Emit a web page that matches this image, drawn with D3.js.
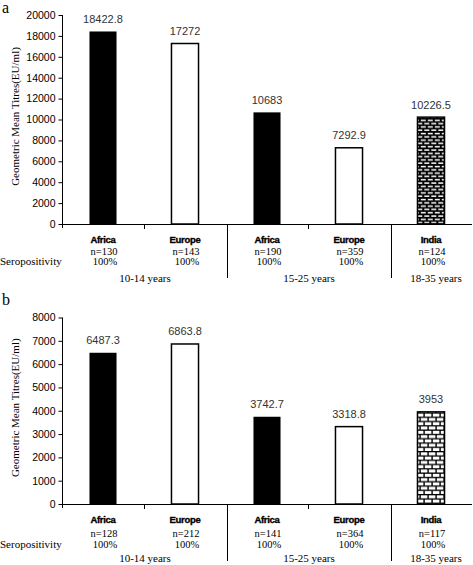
<!DOCTYPE html>
<html>
<head>
<meta charset="utf-8">
<script src="https://cdn.jsdelivr.net/npm/d3@7"></script>
<style>
  html, body { margin: 0; padding: 0; background: #fff; }
  svg { display: block; }
</style>
</head>
<body>
<svg id="chart" width="473" height="565"></svg>
<script>
// ---- data ----
const categories = ["Africa", "Europe", "Africa", "Europe", "India"];
const fills = ["black", "white", "black", "white", "brick"];
const ageGroups = ["10-14 years", "15-25 years", "18-35 years"];
const ageGroupStart = [0, 2, 4];
const ageGroupEnd = [1, 3, 4];

const gmtA = [18422.8, 17272, 10683, 7292.9, 10226.5];
const gmtLabelsA = ["18422.8", "17272", "10683", "7292.9", "10226.5"];
const nA = ["n=130", "n=143", "n=190", "n=359", "n=124"];
const seroA = ["100%", "100%", "100%", "100%", "100%"];
const ticksA = [0, 2000, 4000, 6000, 8000, 10000, 12000, 14000, 16000, 18000, 20000];

const gmtB = [6487.3, 6863.8, 3742.7, 3318.8, 3953];
const gmtLabelsB = ["6487.3", "6863.8", "3742.7", "3318.8", "3953"];
const nB = ["n=128", "n=212", "n=141", "n=364", "n=117"];
const seroB = ["100%", "100%", "100%", "100%", "100%"];
const ticksB = [0, 1000, 2000, 3000, 4000, 5000, 6000, 7000, 8000];

const yTitle = "Geometric Mean Titres(EU/ml)";
const seroTitle = "Seropositivity";

// ---- drawing ----
const svg = d3.select("#chart");
const defs = svg.append("defs");

function brickPattern(id, w, h, brickW, brickH) {
  const p = defs.append("pattern").attr("id", id)
    .attr("patternUnits", "userSpaceOnUse").attr("width", w).attr("height", h * 2);
  p.append("rect").attr("width", w).attr("height", h * 2).attr("fill", "black");
  p.append("rect").attr("x", 0.8).attr("y", 0.8).attr("width", brickW).attr("height", brickH).attr("fill", "white");
  p.append("rect").attr("x", -w / 2 + 0.8).attr("y", h + 0.8).attr("width", brickW).attr("height", brickH).attr("fill", "white");
  p.append("rect").attr("x", w / 2 + 0.8).attr("y", h + 0.8).attr("width", brickW).attr("height", brickH).attr("fill", "white");
}
brickPattern("brickA", 7, 3.3, 5, 1.5);
brickPattern("brickB", 8, 4.3, 6.6, 3.0);

const serif = "'Liberation Serif', 'Times New Roman', serif";
const sans = "'Liberation Sans', Arial, sans-serif";

const x = d3.scaleBand().domain(d3.range(categories.length)).range([62, 472]).padding(0);
const barW = x.bandwidth() * 0.33;

function panel(opts) {
  const { letter, letterY, top, bottom, maxV, values, labels, ns, seros, ticks, pattern, off } = opts;
  const y = d3.scaleLinear().domain([0, maxV]).range([bottom, top]);
  const g = svg.append("g");

  g.append("text").attr("x", 2).attr("y", letterY)
    .attr("font-family", serif).attr("font-size", 16).text(letter);

  // y axis
  const ax = g.append("g").attr("transform", "translate(62.5,0)")
    .call(d3.axisLeft(y).tickValues(ticks).tickSize(4).tickSizeOuter(0).tickPadding(3).tickFormat(d3.format("d")));
  ax.selectAll("text").attr("font-family", sans).attr("font-size", 10.5).attr("fill", "#000");
  ax.selectAll("line, path").attr("stroke", "#000").attr("stroke-width", 1);
  ax.select(".domain").attr("d", `M0,${top}V${bottom + 4}`);

  // y title
  g.append("text")
    .attr("transform", `translate(19,${(top + bottom) / 2 - 3}) rotate(-90)`)
    .attr("text-anchor", "middle").attr("font-family", serif).attr("font-size", 11)
    .text(yTitle);

  // bars
  g.selectAll("rect.bar").data(values).join("rect").attr("class", "bar")
    .attr("x", (d, i) => x(i) + x.bandwidth() / 2 - barW / 2)
    .attr("y", d => y(d))
    .attr("width", barW)
    .attr("height", d => y(0) - y(d))
    .attr("fill", (d, i) => fills[i] === "brick" ? `url(#${pattern})` : fills[i])
    .attr("stroke", (d, i) => fills[i] === "black" ? "none" : "#000")
    .attr("stroke-width", 1.5);

  // value labels
  g.selectAll("text.val").data(values).join("text").attr("class", "val")
    .attr("x", (d, i) => x(i) + x.bandwidth() / 2)
    .attr("y", d => y(d) - 8.5)
    .attr("text-anchor", "middle").attr("font-family", sans).attr("font-size", 11)
    .attr("fill", "#333")
    .text((d, i) => labels[i]);

  // x axis line
  g.append("line").attr("x1", 62).attr("x2", 472).attr("y1", bottom + 0.5).attr("y2", bottom + 0.5)
    .attr("stroke", "#000");

  // small ticks inside groups, long dividers between groups
  const small = [1, 3];
  g.selectAll("line.st").data(small).join("line").attr("class", "st")
    .attr("x1", d => Math.round(x(d)) + 0.5).attr("x2", d => Math.round(x(d)) + 0.5)
    .attr("y1", bottom).attr("y2", bottom + 5).attr("stroke", "#000");
  const dividers = ageGroupStart.slice(1);
  g.selectAll("line.dv").data(dividers).join("line").attr("class", "dv")
    .attr("x1", d => Math.round(x(d)) + 1.5).attr("x2", d => Math.round(x(d)) + 1.5)
    .attr("y1", bottom).attr("y2", bottom + off.div).attr("stroke", "#000");

  // category labels
  g.selectAll("text.cat").data(categories).join("text").attr("class", "cat")
    .attr("x", (d, i) => x(i) + x.bandwidth() / 2)
    .attr("y", bottom + off.cat)
    .attr("text-anchor", "middle").attr("font-family", sans).attr("font-weight", "bold")
    .attr("font-size", 9.5).attr("letter-spacing", -0.3)
    .attr("stroke", "#000").attr("stroke-width", 0.35)
    .text(d => d);

  g.selectAll("text.n").data(ns).join("text").attr("class", "n")
    .attr("x", (d, i) => x(i) + x.bandwidth() / 2 + 1)
    .attr("y", bottom + off.n)
    .attr("text-anchor", "middle").attr("font-family", serif).attr("font-size", 10.5)
    .text(d => d);

  g.selectAll("text.sero").data(seros).join("text").attr("class", "sero")
    .attr("x", (d, i) => x(i) + x.bandwidth() / 2 + 2)
    .attr("y", bottom + off.sero)
    .attr("text-anchor", "middle").attr("font-family", serif).attr("font-size", 10.5)
    .text(d => d);

  g.append("text").attr("x", 0).attr("y", bottom + off.sero)
    .attr("font-family", serif).attr("font-size", 11).text(seroTitle);

  g.selectAll("text.age").data(ageGroups).join("text").attr("class", "age")
    .attr("x", (d, i) => (x(ageGroupStart[i]) + x(ageGroupEnd[i]) + x.bandwidth()) / 2 + (i === 2 ? 5 : 1))
    .attr("y", bottom + off.age)
    .attr("text-anchor", "middle").attr("font-family", serif).attr("font-size", 11)
    .text(d => d);
}

panel({ letter: "a", letterY: 13, top: 15, bottom: 224, maxV: 20000, values: gmtA, labels: gmtLabelsA,
        ns: nA, seros: seroA, ticks: ticksA, pattern: "brickA",
        off: { cat: 18.5, n: 31, sero: 40.5, age: 58, div: 54 } });
panel({ letter: "b", letterY: 305, top: 317.5, bottom: 504, maxV: 8000, values: gmtB, labels: gmtLabelsB,
        ns: nB, seros: seroB, ticks: ticksB, pattern: "brickB",
        off: { cat: 18.5, n: 33, sero: 43.5, age: 57.5, div: 57 } });
</script>
</body>
</html>
